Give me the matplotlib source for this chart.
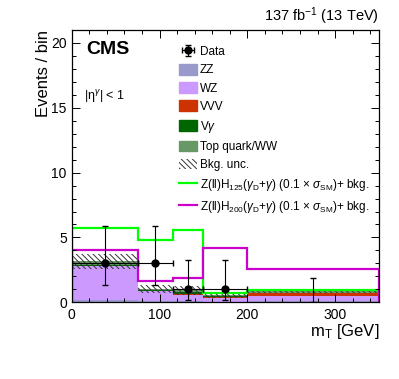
import numpy as np
import matplotlib
matplotlib.use("Agg")
import matplotlib.pyplot as plt
from matplotlib.patches import Patch
from matplotlib.lines import Line2D

plt.rcParams['font.family'] = ['Liberation Sans', 'DejaVu Sans']
plt.rcParams['mathtext.fontset'] = 'custom'
plt.rcParams['mathtext.rm'] = 'Liberation Sans'
plt.rcParams['mathtext.it'] = 'Liberation Sans:italic'
plt.rcParams['mathtext.bf'] = 'Liberation Sans:bold'
plt.rcParams['hatch.linewidth'] = 0.7

# bin edges in mT [GeV]
edges = [0, 75, 115, 150, 200, 350]

# background stack (events / bin)
zz = [0.15, 0.10, 0.08, 0.05, 0.08]
wz = [2.65, 0.75, 0.50, 0.28, 0.40]
vvv = [0.02, 0.02, 0.07, 0.04, 0.20]
vgamma = [0.08, 0.05, 0.12, 0.08, 0.07]
top_ww = [0.25, 0.10, 0.15, 0.12, 0.12]
bkg_unc = [0.60, 0.30, 0.35, 0.25, 0.12]

# signal + bkg
sig125 = [5.7, 4.8, 5.6, 0.75, 0.95]
sig200 = [4.0, 1.65, 1.85, 4.15, 2.6]

# data
data_x = [37.5, 95, 132.5, 175, 275]
data_y = [3, 3, 1, 1, 0]
data_xerr = [37.5, 20, 17.5, 25, 75]
data_lo = [1.63, 1.63, 0.83, 0.83, 0.0]
data_hi = [2.92, 2.92, 2.30, 2.30, 1.84]

stack = [
    (zz, "ZZ", "#9999cc"),
    (wz, "WZ", "#cc99ff"),
    (vvv, "VVV", "#cc3300"),
    (vgamma, r"V$\gamma$", "#006600"),
    (top_ww, "Top quark/WW", "#669966"),
]

fig = plt.figure(figsize=(3.99, 3.79), dpi=100)
ax = fig.add_axes([0.1797, 0.2024, 0.7703, 0.7184])

bottom = np.zeros(len(zz))
handles = {}
for vals, name, col in stack:
    top = bottom + np.array(vals)
    ax.stairs(top, edges, baseline=bottom, fill=True, color=col, lw=0)
    handles[name] = Patch(facecolor=col, edgecolor=col)
    bottom = top
total = bottom

unc = np.array(bkg_unc)
hatch_col = '#333333'
ax.stairs(total + unc, edges, baseline=total - unc, fill=True,
          facecolor='none', edgecolor=hatch_col, hatch='\\\\\\\\\\\\', lw=0)
hunc = Patch(facecolor='none', edgecolor=hatch_col, hatch='\\\\\\\\\\\\', lw=0)

ax.stairs(sig125, edges, baseline=0, color='#00ff00', lw=1.6)
ax.stairs(sig200, edges, baseline=0, color='#cc00cc', lw=1.6)

# data points (zero bin without marker)
ax.errorbar(data_x[4], data_y[4], yerr=[[data_lo[4]], [data_hi[4]]],
            fmt='none', ecolor='black', elinewidth=0.8, capsize=2)
hdata = ax.errorbar(data_x[:4], data_y[:4], xerr=data_xerr[:4],
                    yerr=[data_lo[:4], data_hi[:4]], fmt='o', color='black',
                    markersize=5, elinewidth=0.8, capsize=2)

ax.set_xlim(0, 350)
ax.set_ylim(0, 21)
ax.set_xticks([0, 100, 200, 300])
ax.set_xticks(np.arange(0, 351, 20), minor=True)
ax.set_yticks([0, 5, 10, 15, 20])
ax.set_yticks(np.arange(0, 22, 1), minor=True)
ax.tick_params(which='both', direction='in', top=True, right=True, labelsize=10)
ax.tick_params(which='major', length=6, width=0.7)
ax.tick_params(which='minor', length=3, width=0.7)
ax.tick_params(axis='x', pad=4)
for sp in ax.spines.values():
    sp.set_linewidth(0.9)

ax.set_xlabel(r"m$_{\mathrm{T}}$ [GeV]", fontsize=12, loc='right', labelpad=0)
ax.set_ylabel("Events / bin", fontsize=12, loc='top', labelpad=0)

ax.text(0.046, 0.93, "CMS", transform=ax.transAxes, fontsize=14,
        fontweight='bold', ha='left', va='center')
ax.text(0.04, 0.755, r"|η$^{\gamma}$| < 1", transform=ax.transAxes,
        fontsize=9, ha='left', va='center')
ax.text(1.0, 1.012, r"137 fb$^{-1}$ (13 TeV)", transform=ax.transAxes,
        fontsize=10.5, ha='right', va='bottom')

leg_handles = [hdata] + [handles[n] for _, n, _ in stack] + [
    hunc,
    Line2D([], [], color='#00ff00', lw=1.6),
    Line2D([], [], color='#cc00cc', lw=1.6),
]
leg_labels = ["Data", "ZZ", "WZ", "VVV", r"V$\gamma$", "Top quark/WW", "Bkg. unc.",
              r"Z(ll)H$_{125}$($\gamma_{\mathrm{D}}$+$\gamma$) (0.1 $\times$ $\sigma_{\mathrm{SM}}$)+ bkg.",
              r"Z(ll)H$_{200}$($\gamma_{\mathrm{D}}$+$\gamma$) (0.1 $\times$ $\sigma_{\mathrm{SM}}$)+ bkg."]
ax.legend(leg_handles, leg_labels, loc='upper left', bbox_to_anchor=(0.35, 0.942),
          frameon=False, fontsize=8.5, handlelength=1.5, handleheight=1.0,
          handletextpad=0.25, labelspacing=0.5, borderpad=0, borderaxespad=0)

fig.savefig("out.png", dpi=100)
